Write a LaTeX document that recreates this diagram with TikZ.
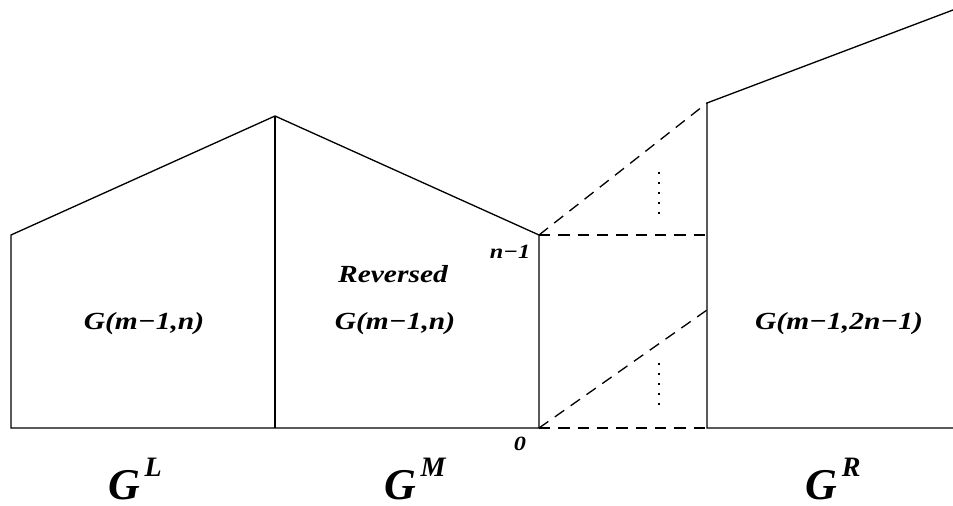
\documentclass[tikz,border=0pt]{standalone}
\usepackage{fontspec}
\setmainfont{Liberation Serif}[FakeStretch=1.2]
\newfontfamily\partfont{Liberation Serif}
\usetikzlibrary{positioning}
\tikzstyle{edge} = [line width=0.75pt]
\tikzstyle{guide} = [line width=0.75pt,
dash pattern=on 6.5pt off 4.5pt]
\tikzstyle{tick} = [line width=1.1pt,
dash pattern=on 1.1pt off 4.6pt]
\tikzstyle{label} = [inner sep=0pt,
font=\fontsize{14}{16}\selectfont\bfseries\itshape]
\tikzstyle{small} = [inner sep=0pt,
font=\fontsize{11.5}{13}\selectfont\bfseries\itshape]
\tikzstyle{part} = [inner sep=0pt, anchor=base,
font=\partfont\fontsize{25}{25}\selectfont\bfseries\itshape]
\newcommand{\partsup}[1]{\raisebox{13pt}{\fontsize{16}{16}\selectfont #1}}

\begin{document}
\begin{tikzpicture}[x=0.02cm, y=-0.02cm]
            \useasboundingbox (0,0) rectangle (953,506);
            % corners of the three blocks
            \coordinate (lfoot) at (11,428);
            \coordinate (ltop) at (11,235);
            \coordinate (peak) at (275,116);
            \coordinate (mfoot) at (275,428);
            \coordinate (mtop) at (539,235);
            \coordinate (mend) at (539,428);
            \coordinate (rtop) at (707,103);
            \coordinate (rfoot) at (707,428);
            \coordinate (rhigh) at (707,235);
            \coordinate (rmid) at (707,310);
            \coordinate (far) at (953,10);
            \coordinate (farfoot) at (953,428);
            \coordinate (tick1a) at (659,172);
            \coordinate (tick1b) at (659,221);
            \coordinate (tick2a) at (659,363);
            \coordinate (tick2b) at (659,413);

            \draw [edge] (mend) -- (lfoot) -- (ltop) -- (peak) -- (mtop) -- (mend);
            \draw [edge] (peak) -- (mfoot);
            \draw [edge] (far) -- (rtop) -- (rfoot) -- (farfoot);
            \draw [guide] (mtop) -- (rtop);
            \draw [guide] (mtop) -- (rhigh);
            \draw [guide] (mend) -- (rmid);
            \draw [guide] (mend) -- (rfoot);
            \draw [tick] (tick1a) -- (tick1b);
            \draw [tick] (tick2a) -- (tick2b);

            \node (gl) [label] at (144,324) {G(m−1,n)};
            \node (rev) [label] at (393,274) {Reversed};
            \node (gm) [label] at (395,324) {G(m−1,n)};
            \node (gr) [label] at (839,324) {G(m−1,2n−1)};
            \node (top) [small] at (510,252) {n−1};
            \node (zero) [small] at (520,444) {0};

            \node (pl) [part] at (135,499) {G\partsup{\,L}};
            \node (pm) [part] at (415,499) {G\partsup{\,M}};
            \node (pr) [part] at (833,499) {G\partsup{\,R}};
        \end{tikzpicture}
\end{document}
